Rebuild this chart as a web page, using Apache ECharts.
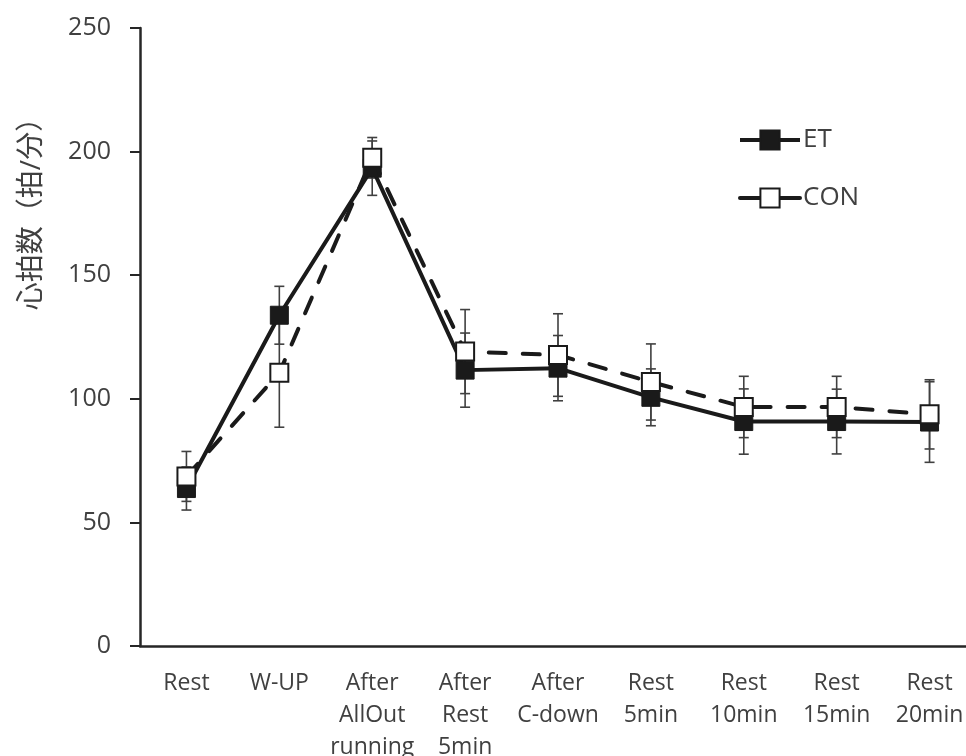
<!DOCTYPE html>
<html>
<head>
<meta charset="utf-8">
<script src="https://cdn.jsdelivr.net/npm/echarts@6/dist/echarts.min.js"></script>
<style>html,body{margin:0;padding:0;background:#fff}#c{width:966px;height:756px}</style>
</head>
<body>
<div id="c"></div>
<script>
const categories = ['Rest', 'W-UP', 'After\nAllOut\nrunning', 'After\nRest\n5min', 'After\nC-down', 'Rest\n5min', 'Rest\n10min', 'Rest\n15min', 'Rest\n20min'];
const etMean = [63.7, 133.8, 193.3, 111.6, 112.4, 100.6, 90.8, 90.8, 90.6];
const etSD = [8.7, 11.7, 11.0, 15.0, 13.2, 11.5, 13.2, 13.1, 16.3];
const conMean = [68.6, 110.5, 197.5, 119.1, 117.7, 106.8, 96.7, 96.7, 93.7];
const conSD = [10.1, 22.0, 8.2, 17.0, 16.7, 15.4, 12.4, 12.4, 14.0];
const yTicks = [0, 50, 100, 150, 200, 250];
const yTitle = '心拍数（拍/分）';
const seriesNames = ['ET', 'CON'];

const font = '"Open Sans", "Noto Sans", "Noto Sans CJK JP", sans-serif';
const chart = echarts.init(document.getElementById('c'));

function errData(mean, sd) {
  return mean.map((m, i) => [i, m - sd[i], m + sd[i]]);
}
function errRender(params, api) {
  const x = api.value(0);
  const lo = api.coord([x, api.value(1)]);
  const hi = api.coord([x, api.value(2)]);
  const hw = 5;
  const st = { stroke: '#404040', lineWidth: 1.6 };
  return {
    type: 'group',
    children: [
      { type: 'line', shape: { x1: hi[0], y1: hi[1], x2: lo[0], y2: lo[1] }, style: st },
      { type: 'line', shape: { x1: hi[0] - hw, y1: hi[1], x2: hi[0] + hw, y2: hi[1] }, style: st },
      { type: 'line', shape: { x1: lo[0] - hw, y1: lo[1], x2: lo[0] + hw, y2: lo[1] }, style: st }
    ]
  };
}

chart.setOption({
  animation: false,
  backgroundColor: '#fff',
  grid: { left: 140, top: 28, bottom: 110, width: 836, containLabel: false, outerBoundsMode: 'none' },
  legend: {
    orient: 'vertical',
    left: 733, top: 122,
    itemWidth: 60, itemHeight: 24, itemGap: 32,
    lineStyle: { width: 4, type: 'solid' },
    textStyle: { fontFamily: font, fontSize: 26, color: '#404040', padding: [0, 0, 0, -2] },
    data: seriesNames
  },
  graphic: [{
    type: 'text',
    x: 32, y: 207,
    rotation: Math.PI / 2,
    style: {
      text: yTitle,
      fontFamily: font, fontSize: 28, fill: '#404040',
      align: 'center', verticalAlign: 'middle'
    }
  }],
  xAxis: {
    type: 'category',
    data: categories,
    boundaryGap: true,
    axisLine: { lineStyle: { color: '#262626', width: 2.5 } },
    axisTick: { show: false },
    axisLabel: {
      interval: 0, margin: 21,
      fontFamily: font, fontSize: 23, color: '#404040', lineHeight: 32
    },
    splitLine: { show: false }
  },
  yAxis: {
    type: 'value',
    min: yTicks[0], max: yTicks[yTicks.length - 1], interval: 50,
    axisLine: { show: true, lineStyle: { color: '#262626', width: 2.5 } },
    axisTick: { show: true, inside: false, length: 10, lineStyle: { color: '#262626', width: 2 } },
    axisLabel: { margin: 29, fontFamily: font, fontSize: 25, color: '#404040' },
    splitLine: { show: false }
  },
  series: [
    {
      type: 'custom', name: 'etErr', renderItem: errRender,
      data: errData(etMean, etSD), z: 1, silent: true,
      encode: { x: 0, y: [1, 2] }
    },
    {
      type: 'custom', name: 'conErr', renderItem: errRender,
      data: errData(conMean, conSD), z: 1, silent: true,
      encode: { x: 0, y: [1, 2] }
    },
    {
      name: 'ET', type: 'line', data: etMean, z: 3,
      symbol: 'rect', symbolSize: 18,
      lineStyle: { color: '#1a1a1a', width: 4 },
      itemStyle: { color: '#1a1a1a', borderColor: '#1a1a1a', borderWidth: 1 }
    },
    {
      name: 'CON', type: 'line', data: conMean, z: 4,
      symbol: 'rect', symbolSize: 18,
      lineStyle: { color: '#1a1a1a', width: 4, type: [17, 17], cap: 'round' },
      itemStyle: { color: '#ffffff', borderColor: '#1a1a1a', borderWidth: 2 }
    }
  ]
});
</script>
</body>
</html>
